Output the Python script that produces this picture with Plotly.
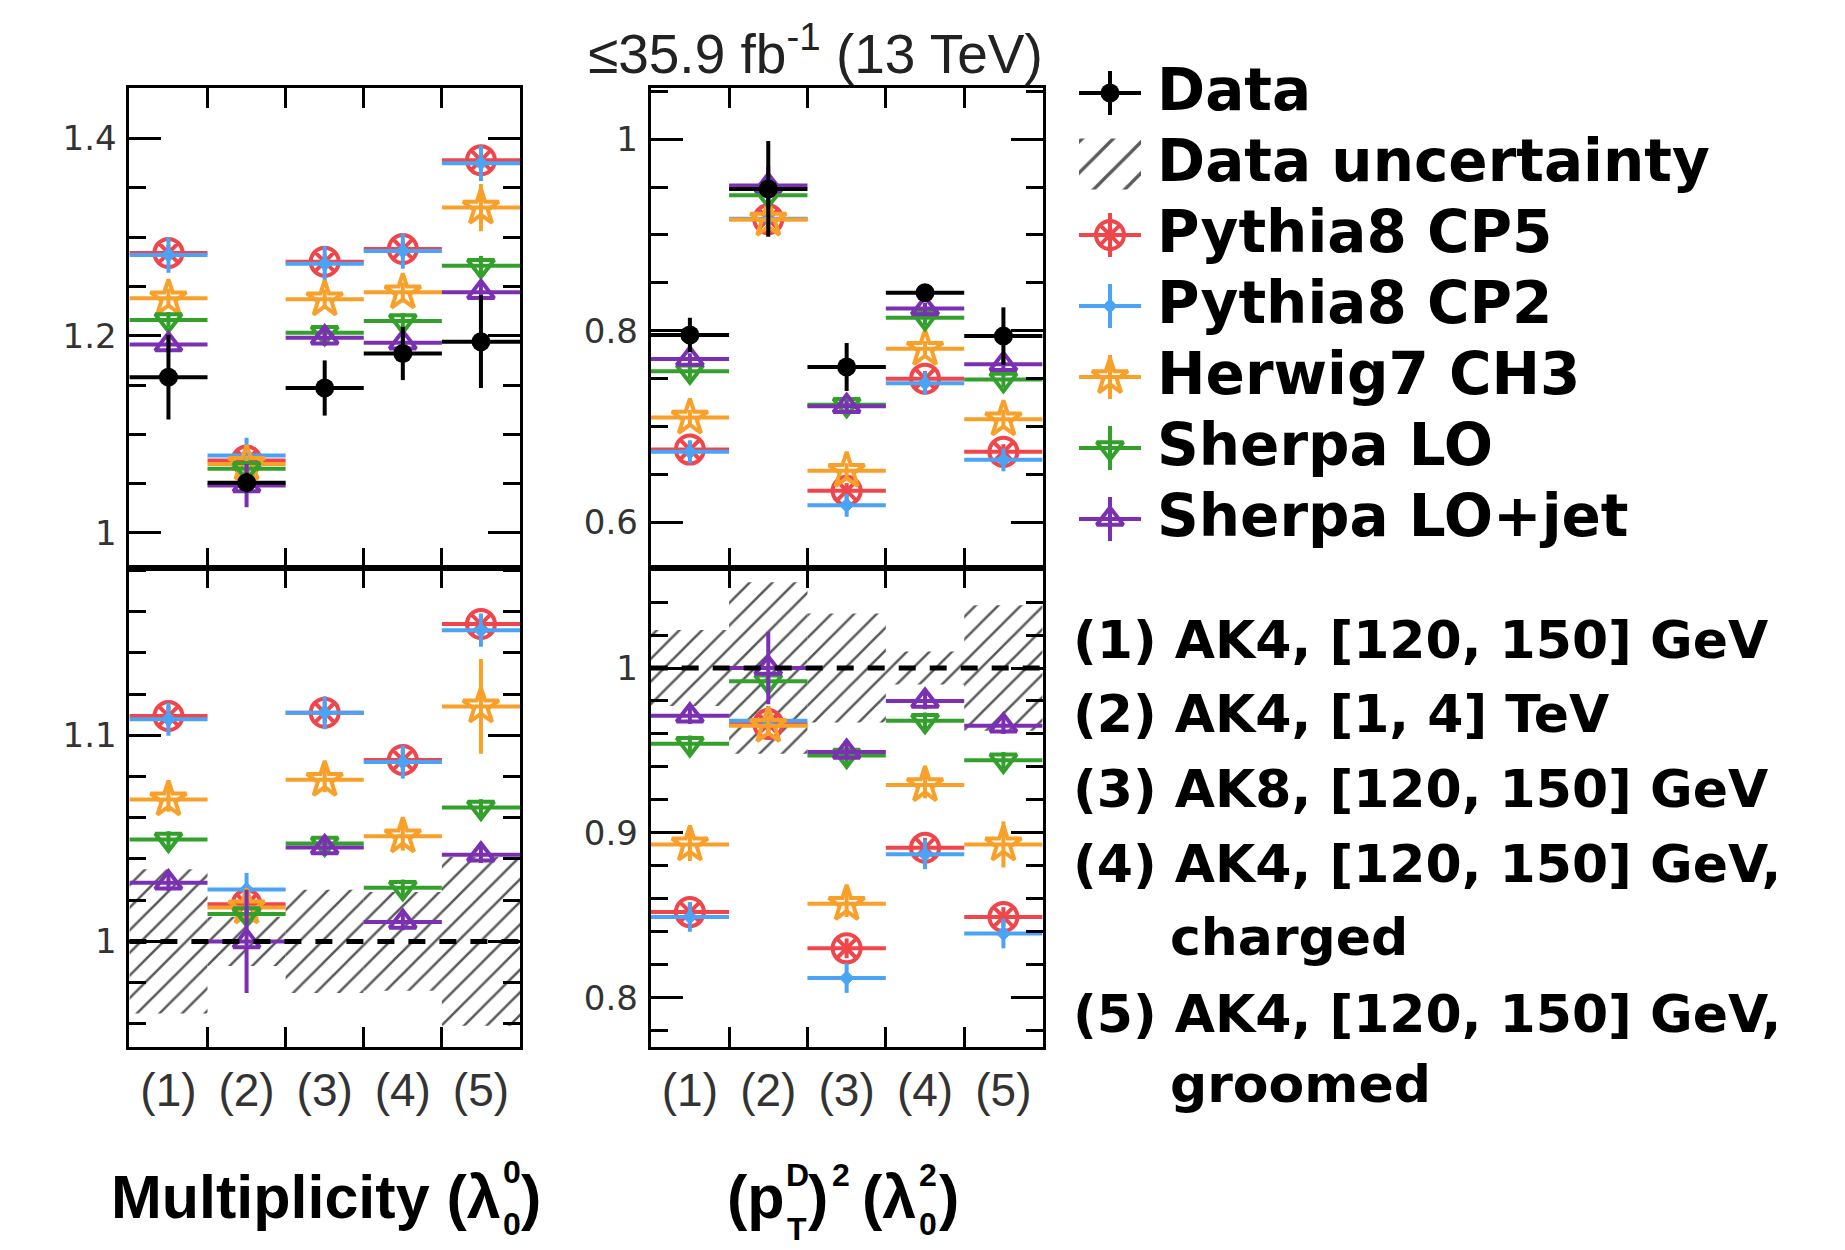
import plotly.graph_objects as go

W, H = 1845, 1250

# ---------------- data ----------------
bin_labels = ["(1)", "(2)", "(3)", "(4)", "(5)"]
model_names = ["Pythia8 CP5", "Pythia8 CP2", "Herwig7 CH3", "Sherpa LO", "Sherpa LO+jet"]
model_colors = ["#f0464b", "#4aa3f5", "#f9a02a", "#33a02c", "#7b30b4"]
model_symbols = ["circle-x-open", "diamond", "star-open", "triangle-down-open", "triangle-up-open"]
model_sizes = [28, 11, 27, 23, 23]

category_lines = ["(1) AK4, [120, 150] GeV", "(2) AK4, [1, 4] TeV", "(3) AK8, [120, 150] GeV",
                  "(4) AK4, [120, 150] GeV,", "charged", "(5) AK4, [120, 150] GeV,", "groomed"]

# Multiplicity (lambda_0^0): mean values
data_mult = [1.158, 1.051, 1.147, 1.182, 1.194]
data_mult_err = [0.043, 0.010, 0.028, 0.027, 0.047]
cp5_mult = [1.284, 1.0735, 1.275, 1.288, 1.378]
cp2_mult = [1.282, 1.0786, 1.273, 1.286, 1.375]
h7_mult = [1.238, 1.070, 1.237, 1.244, 1.330]
slo_mult = [1.216, 1.065, 1.203, 1.215, 1.271]
slj_mult = [1.191, 1.048, 1.198, 1.193, 1.244]
cp5_mult_err = [0.008, 0.006, 0.008, 0.008, 0.008]
cp2_mult_err = [0.018, 0.018, 0.018, 0.018, 0.018]
h7_mult_err = [0.010, 0.008, 0.010, 0.010, 0.024]
slo_mult_err = [0.008, 0.006, 0.008, 0.008, 0.010]
slj_mult_err = [0.008, 0.022, 0.008, 0.008, 0.010]

# Multiplicity: ratio MC / data
cp5_mult_r = [1.1094, 1.018, 1.111, 1.088, 1.154]
cp2_mult_r = [1.1078, 1.0252, 1.111, 1.087, 1.151]
h7_mult_r = [1.0689, 1.0165, 1.0784, 1.051, 1.114]
slo_mult_r = [1.0494, 1.0133, 1.0475, 1.026, 1.065]
slj_mult_r = [1.0284, 1.000, 1.0456, 1.0094, 1.042]
cp5_mult_r_err = [0.005, 0.005, 0.005, 0.005, 0.005]
cp2_mult_r_err = [0.008, 0.008, 0.008, 0.008, 0.008]
h7_mult_r_err = [0.006, 0.004, 0.006, 0.007, 0.023]
slo_mult_r_err = [0.004, 0.004, 0.004, 0.004, 0.004]
slj_mult_r_err = [0.004, 0.025, 0.004, 0.004, 0.004]
band_mult = [0.035, 0.012, 0.025, 0.024, 0.041]

# (p_T^D)^2 (lambda_0^2): mean values
data_ptd = [0.7955, 0.948, 0.7622, 0.8397, 0.7944]
data_ptd_err = [0.018, 0.050, 0.025, 0.008, 0.030]
cp5_ptd = [0.676, 0.9164, 0.633, 0.750, 0.6736]
cp2_ptd = [0.6736, 0.917, 0.618, 0.7453, 0.6653]
h7_ptd = [0.7094, 0.916, 0.6538, 0.7812, 0.7076]
slo_ptd = [0.7578, 0.9415, 0.7227, 0.8135, 0.749]
slj_ptd = [0.7704, 0.9516, 0.7213, 0.8232, 0.765]
cp5_ptd_err = [0.008, 0.008, 0.008, 0.008, 0.008]
cp2_ptd_err = [0.012, 0.012, 0.012, 0.012, 0.012]
h7_ptd_err = [0.008, 0.008, 0.008, 0.008, 0.010]
slo_ptd_err = [0.008, 0.008, 0.008, 0.008, 0.008]
slj_ptd_err = [0.006, 0.020, 0.006, 0.006, 0.006]

# (p_T^D)^2: ratio MC / data
cp5_ptd_r = [0.852, 0.966, 0.830, 0.891, 0.849]
cp2_ptd_r = [0.849, 0.968, 0.812, 0.887, 0.839]
h7_ptd_r = [0.893, 0.965, 0.857, 0.929, 0.893]
slo_ptd_r = [0.954, 0.992, 0.947, 0.968, 0.944]
slj_ptd_r = [0.971, 1.000, 0.949, 0.980, 0.965]
cp5_ptd_r_err = [0.006, 0.006, 0.006, 0.006, 0.006]
cp2_ptd_r_err = [0.009, 0.009, 0.009, 0.009, 0.009]
h7_ptd_r_err = [0.010, 0.006, 0.008, 0.008, 0.014]
slo_ptd_r_err = [0.005, 0.005, 0.005, 0.005, 0.005]
slj_ptd_r_err = [0.005, 0.022, 0.005, 0.005, 0.005]
band_ptd = [0.023, 0.052, 0.033, 0.010, 0.038]

# ---------------- helpers ----------------
def fx(p):
    return p / W


def fy(p):
    return 1 - p / H


xc = [i + 0.5 for i in range(len(bin_labels))]
half = [0.5] * len(bin_labels)

fig = go.Figure()

hatch = dict(shape="/", fgcolor="#5a5a5a", bgcolor="rgba(0,0,0,0)", size=16, solidity=0.16,
             fillmode="replace")


def add_band(xa, ya, err):
    fig.add_trace(go.Bar(
        x=xc, y=[2 * e for e in err], base=[1 - e for e in err], width=[1.0] * len(err),
        xaxis=xa, yaxis=ya, showlegend=False, hoverinfo="skip",
        marker=dict(color="rgba(0,0,0,0)", line=dict(width=0), pattern=hatch),
    ))


def add_series(xa, ya, vals, errs, k):
    col = model_colors[k]
    lw = 1 if model_symbols[k] == "diamond" else 4
    fig.add_trace(go.Scatter(
        x=xc, y=vals, xaxis=xa, yaxis=ya, mode="markers", name=model_names[k], showlegend=False,
        marker=dict(symbol=model_symbols[k], size=model_sizes[k], color=col, line=dict(color=col, width=lw)),
        error_x=dict(type="data", array=half, width=0, thickness=4, color=col),
        error_y=dict(type="data", array=errs, width=0, thickness=4, color=col),
    ))


def add_data(xa, ya, vals, errs):
    fig.add_trace(go.Scatter(
        x=xc, y=vals, xaxis=xa, yaxis=ya, mode="markers", name="Data", showlegend=False,
        marker=dict(symbol="circle", size=19, color="black"),
        error_x=dict(type="data", array=half, width=0, thickness=4, color="black"),
        error_y=dict(type="data", array=errs, width=0, thickness=4, color="black"),
    ))


# left top: multiplicity
for k, (v, e) in enumerate(zip([cp5_mult, cp2_mult, h7_mult, slo_mult, slj_mult],
                               [cp5_mult_err, cp2_mult_err, h7_mult_err, slo_mult_err, slj_mult_err])):
    add_series("x", "y", v, e, k)
add_data("x", "y", data_mult, data_mult_err)

# left bottom: multiplicity ratio
add_band("x2", "y2", band_mult)
for k, (v, e) in enumerate(zip([cp5_mult_r, cp2_mult_r, h7_mult_r, slo_mult_r, slj_mult_r],
                               [cp5_mult_r_err, cp2_mult_r_err, h7_mult_r_err, slo_mult_r_err, slj_mult_r_err])):
    add_series("x2", "y2", v, e, k)

# right top: (pTD)^2
for k, (v, e) in enumerate(zip([cp5_ptd, cp2_ptd, h7_ptd, slo_ptd, slj_ptd],
                               [cp5_ptd_err, cp2_ptd_err, h7_ptd_err, slo_ptd_err, slj_ptd_err])):
    add_series("x3", "y3", v, e, k)
add_data("x3", "y3", data_ptd, data_ptd_err)

# right bottom: ratio
add_band("x4", "y4", band_ptd)
for k, (v, e) in enumerate(zip([cp5_ptd_r, cp2_ptd_r, h7_ptd_r, slo_ptd_r, slj_ptd_r],
                               [cp5_ptd_r_err, cp2_ptd_r_err, h7_ptd_r_err, slo_ptd_r_err, slj_ptd_r_err])):
    add_series("x4", "y4", v, e, k)

# ---------------- legend (drawn in its own hidden axes) ----------------
legend_labels = ["Data", "Data uncertainty"] + model_names
row0, drow = 93.0, 71.0
n_rows = len(legend_labels)

fig.add_trace(go.Scatter(
    x=[0], y=[0], xaxis="x5", yaxis="y5", mode="markers", showlegend=False,
    marker=dict(symbol="circle", size=19, color="black"),
    error_x=dict(type="data", array=[31], width=0, thickness=4, color="black"),
    error_y=dict(type="data", array=[0.31], width=0, thickness=4, color="black"),
))
fig.add_trace(go.Bar(
    x=[0], y=[0.72], base=[1 - 0.36], width=[62], xaxis="x5", yaxis="y5", showlegend=False,
    marker=dict(color="rgba(0,0,0,0)", line=dict(width=0),
                pattern=dict(shape="/", fgcolor="#5a5a5a", bgcolor="rgba(0,0,0,0)",
                             size=22, solidity=0.15, fillmode="replace")),
))
for k in range(len(model_names)):
    col = model_colors[k]
    lw = 1 if model_symbols[k] == "diamond" else 4
    fig.add_trace(go.Scatter(
        x=[0], y=[k + 2], xaxis="x5", yaxis="y5", mode="markers", showlegend=False,
        marker=dict(symbol=model_symbols[k], size=model_sizes[k], color=col, line=dict(color=col, width=lw)),
        error_x=dict(type="data", array=[31], width=0, thickness=4, color=col),
        error_y=dict(type="data", array=[0.31], width=0, thickness=4, color=col),
    ))

annotations = []
for i, lab in enumerate(legend_labels):
    annotations.append(dict(x=fx(1155), y=fy(row0 + i * drow - 3), xref="paper", yref="paper",
                            text=lab, showarrow=False, xanchor="left", yanchor="middle",
                            font=dict(family="DejaVu Sans", size=58, color="black", weight="bold")))

cat_y = [640, 714, 789, 864, 937, 1014, 1084]
cat_x = [1071, 1071, 1071, 1071, 1168, 1071, 1168]
for t, xx, yy in zip(category_lines, cat_x, cat_y):
    annotations.append(dict(x=fx(xx), y=fy(yy), xref="paper", yref="paper", text=t, showarrow=False,
                            xanchor="left", yanchor="middle",
                            font=dict(family="DejaVu Sans", size=52, color="black", weight="bold")))

# luminosity label
annotations.append(dict(x=fx(1045), y=fy(50), xref="paper", yref="paper",
                        text="≤35.9 fb<sup>-1</sup> (13 TeV)", showarrow=False,
                        xanchor="right", yanchor="middle",
                        font=dict(family="Liberation Sans", size=55, color="#222222")))

# axis titles
big = dict(family="Liberation Sans", size=61, color="black", weight="bold")
small = dict(family="Liberation Sans", size=32, color="black", weight="bold")


def ann(x, y, text, font, xanchor):
    annotations.append(dict(x=fx(x), y=fy(y), xref="paper", yref="paper", text=text, showarrow=False,
                            xanchor=xanchor, yanchor="middle", font=font))


ann(503, 1197, "Multiplicity (λ", big, "right")
ann(512, 1172, "0", small, "center")
ann(512, 1224, "0", small, "center")
ann(519, 1197, ")", big, "left")

ann(787, 1197, "(p", big, "right")
ann(797, 1175, "D", small, "center")
ann(797, 1229, "T", small, "center")
ann(806, 1197, ")", big, "left")
ann(841, 1175, "2", small, "center")
ann(918, 1197, "(λ", big, "right")
ann(928, 1175, "2", small, "center")
ann(928, 1224, "0", small, "center")
ann(937, 1197, ")", big, "left")

# ---------------- axes ----------------
LX = [fx(129.4), fx(520.0)]
RX = [fx(650.7), fx(1042.6)]
TOPY = [fy(568.4), fy(88.3)]
BOTY = [fy(1047.3), fy(568.4)]


def xaxis(domain, anchor, labels):
    return dict(domain=domain, anchor=anchor, range=[0, 5], showline=True, mirror="allticks",
                linecolor="black", linewidth=3, showgrid=False, zeroline=False,
                ticks="inside", tickmode="array", tickvals=xc, ticktext=bin_labels, ticklen=0,
                tickwidth=3, tickcolor="black", showticklabels=labels, ticklabelstandoff=0,
                tickfont=dict(family="Liberation Sans", size=46, color="#333333"),
                minor=dict(tickmode="array", tickvals=[1, 2, 3, 4], ticks="inside", ticklen=20,
                           tickwidth=3, tickcolor="black", showgrid=False))


def yaxis(domain, anchor, rng, dtick, mdtick):
    return dict(domain=domain, anchor=anchor, range=rng, showline=True, mirror="allticks",
                linecolor="black", linewidth=3, showgrid=False, zeroline=False,
                ticks="inside", tick0=0, dtick=dtick, ticklen=32, tickwidth=3, tickcolor="black",
                ticklabelstandoff=3,
                tickfont=dict(family="DejaVu Sans", size=34, color="#333333"),
                minor=dict(tick0=0, dtick=mdtick, ticks="inside", ticklen=17, tickwidth=3,
                           tickcolor="black", showgrid=False))


shapes = []
for xa, ya in [("x2", "y2"), ("x4", "y4")]:
    shapes.append(dict(type="line", xref=xa + " domain", yref=ya, x0=0, x1=1, y0=1, y1=1,
                       line=dict(color="black", width=5, dash="17px,14px"), layer="above"))

fig.update_layout(
    width=W, height=H, margin=dict(l=0, r=0, t=0, b=0),
    paper_bgcolor="white", plot_bgcolor="rgba(0,0,0,0)",
    showlegend=False, barmode="overlay",
    xaxis=xaxis(LX, "y", False), yaxis=yaxis(TOPY, "x", [0.964, 1.451], 0.2, 0.05),
    xaxis2=xaxis(LX, "y2", True), yaxis2=yaxis(BOTY, "x2", [0.9486, 1.181], 0.1, 0.02),
    xaxis3=xaxis(RX, "y3", False), yaxis3=yaxis(TOPY, "x3", [0.552, 1.053], 0.2, 0.05),
    xaxis4=xaxis(RX, "y4", True), yaxis4=yaxis(BOTY, "x4", [0.770, 1.0604], 0.1, 0.02),
    xaxis5=dict(domain=[fx(1070), fx(1150)], anchor="y5", range=[-40, 40], visible=False),
    yaxis5=dict(domain=[fy(row0 + (n_rows - 0.5) * drow), fy(row0 - 0.5 * drow)], anchor="x5",
                range=[n_rows - 0.5, -0.5], visible=False),
    annotations=annotations, shapes=shapes,
)

fig.write_html("out.html", config={"displayModeBar": False},
               post_script="document.body.style.margin='0px';document.body.style.padding='0px';")
